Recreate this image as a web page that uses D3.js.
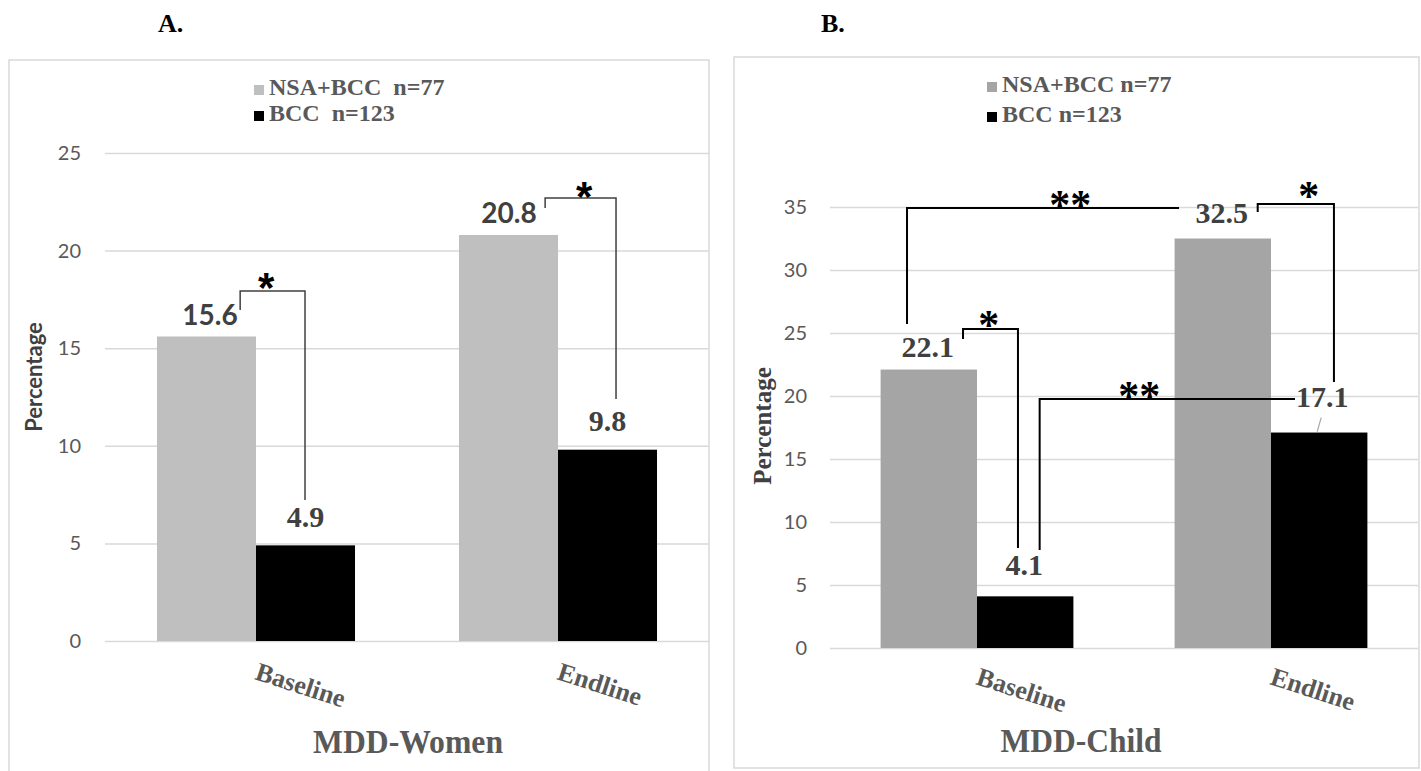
<!DOCTYPE html>
<html><head><meta charset="utf-8">
<script src="https://cdn.jsdelivr.net/npm/d3@7"></script>
<style>body{margin:0;background:#fff}svg{display:block}</style>
</head><body>
<svg id="c" width="1421" height="771"></svg>
<script>
// ---------- DATA ----------
const categories = ["Baseline", "Endline"];
const seriesKeys = ["NSA+BCC", "BCC"];
const legendA = ["NSA+BCC\u00a0\u00a0n=77", "BCC\u00a0\u00a0n=123"];
const legendB = ["NSA+BCC n=77", "BCC n=123"];
const womenNSA = [15.6, 20.8];
const womenBCC = [4.9, 9.8];
const childNSA = [22.1, 32.5];
const childBCC = [4.1, 17.1];
const womenTicks = [0, 5, 10, 15, 20, 25];
const childTicks = [0, 5, 10, 15, 20, 25, 30, 35];
// significance brackets: left anchor (category, series, fraction across bar), right anchor,
// top level, bottom levels (data units), label
const womenSig = [
  {l:[0,0,0.84], r:[0,1,0.495], top:17.93, lBot:16.96, rBot:7.22, label:"*", at:0.4, lift:18.49},
  {l:[1,0,0.87], r:[1,1,0.586], top:22.69, lBot:22.18, rBot:12.40, label:"*", at:0.55, lift:23.16}
];
const childSig = [
  {l:[0,0,0.274], r:[1,0,0.046], top:34.92, lBot:25.71, rBot:null, label:"**", at:0.6, lift:35.63},
  {l:[1,0,0.862], r:[1,1,0.653], top:35.24, lBot:34.60, rBot:21.11, label:"*", at:0.67, lift:36.35},
  {l:[0,0,0.855], r:[0,1,0.425], top:25.32, lBot:24.52, rBot:7.94, label:"*", at:0.47, lift:26.15},
  {l:[0,1,0.65], r:[1,1,0.249], top:19.76, lBot:7.78, rBot:null, label:"**", at:0.39, lift:20.48}
];

// ---------- DRAW ----------
const svg = d3.select("#c");
const SERIF = "'Liberation Serif','Times New Roman',serif";
const SANS = "Lato,'Open Sans',sans-serif";

function panel(cfg) {
  const g = svg.append("g");
  g.append("rect")
    .attr("x", cfg.box[0]).attr("y", cfg.box[1])
    .attr("width", cfg.box[2] - cfg.box[0]).attr("height", cfg.box[3] - cfg.box[1])
    .attr("fill", "#fff").attr("stroke", "#d9d9d9").attr("stroke-width", 1.5);

  g.append("text").attr("x", cfg.letter[0]).attr("y", cfg.letter[1])
    .attr("font-family", SERIF).attr("font-weight", "bold").attr("font-size", 26)
    .attr("fill", "#000").text(cfg.letterText);

  const y = d3.scaleLinear().domain([0, d3.max(cfg.ticks)]).range([cfg.y0, cfg.yTop]);
  const x0 = d3.scaleBand().domain(categories).range([cfg.xL, cfg.xR]);
  const x1 = d3.scaleBand().domain(seriesKeys).range([0, x0.bandwidth()])
    .paddingInner(0).paddingOuter(0.525);

  const ax = d3.axisLeft(y).tickValues(cfg.ticks)
    .tickSize(-(cfg.xR - cfg.xL)).tickPadding(cfg.tickPad);
  const axG = g.append("g").attr("transform", `translate(${cfg.xL},0)`).call(ax);
  axG.select(".domain").remove();
  axG.selectAll(".tick line").attr("stroke", "#d9d9d9").attr("stroke-width", 1.5);
  axG.selectAll(".tick text").attr("font-family", SANS).attr("font-size", 20)
    .attr("fill", "#595959");

  const vals = [cfg.nsa, cfg.bcc];
  const colors = [cfg.gray, "#000000"];
  seriesKeys.forEach((s, si) => {
    g.selectAll(null).data(categories).enter().append("rect")
      .attr("x", c => x0(c) + x1(s))
      .attr("y", (c, i) => y(vals[si][i]))
      .attr("width", x1.bandwidth())
      .attr("height", (c, i) => y(0) - y(vals[si][i]))
      .attr("fill", colors[si]);
  });

  // value labels
  seriesKeys.forEach((s, si) => {
    g.selectAll(null).data(categories).enter().append("text")
      .attr("x", (c, i) => x0(c) + x1(s) + x1.bandwidth() / 2 + cfg.labDx[si][i])
      .attr("y", (c, i) => y(vals[si][i]) - cfg.labGap[si][i])
      .attr("text-anchor", "middle")
      .attr("font-family", cfg.labFont[si] === "sans" ? SANS : SERIF)
      .attr("font-weight", "bold")
      .attr("font-size", cfg.labFont[si] === "sans" ? 28 : 30)
      .attr("fill", "#404040")
      .text((c, i) => vals[si][i].toFixed(1));
  });

  // leader lines
  (cfg.leaders || []).forEach(ld => {
    const cx = x0(categories[ld.c]) + x1(seriesKeys[ld.s]) + x1.bandwidth() / 2;
    const top = y(vals[ld.s][ld.c]);
    g.append("line").attr("x1", cx + 2).attr("y1", top - 15).attr("x2", cx - 2).attr("y2", top - 1)
      .attr("stroke", "#a6a6a6").attr("stroke-width", 1.2);
  });

  // category labels (rotated)
  categories.forEach(c => {
    const px = x0(c) + x0.bandwidth() / 2 - 2;
    const py = y(0) + cfg.catDy;
    g.append("text").attr("transform", `translate(${px},${py}) rotate(18)`)
      .attr("font-family", SERIF).attr("font-weight", "bold").attr("font-size", 26)
      .attr("fill", "#595959").text(c);
  });

  // axis title (x)
  g.append("text").attr("x", cfg.title[0]).attr("y", cfg.title[1])
    .attr("text-anchor", "middle").attr("font-family", SERIF).attr("font-weight", "bold")
    .attr("font-size", 34).attr("fill", "#595959")
    .attr("textLength", cfg.titleLen).attr("lengthAdjust", "spacingAndGlyphs")
    .text(cfg.titleText);

  // y title
  g.append("text").attr("transform", `translate(${cfg.yTitle[0]},${cfg.yTitle[1]}) rotate(-90)`)
    .attr("text-anchor", "middle").attr("dominant-baseline", "central")
    .attr("font-family", cfg.yTitleFont === "sans" ? SANS : SERIF)
    .attr("font-weight", "bold").attr("font-size", cfg.yTitleFont === "sans" ? 22 : 25)
    .attr("fill", "#404040").text("Percentage");

  // legend
  cfg.legend.forEach((t, i) => {
    const ly = cfg.legPos[1] + i * cfg.legStep;
    g.append("rect").attr("x", cfg.legPos[0]).attr("y", ly - 10).attr("width", 10).attr("height", 10)
      .attr("fill", colors[i]);
    g.append("text").attr("x", cfg.legPos[0] + 15).attr("y", ly)
      .attr("font-family", SERIF).attr("font-weight", "bold").attr("font-size", 24)
      .attr("fill", "#595959").text(t);
  });

  // significance brackets
  const ax_ = a => x0(categories[a[0]]) + x1(seriesKeys[a[1]]) + a[2] * x1.bandwidth();
  cfg.sig.forEach(b => {
    const xl = ax_(b.l), xr = ax_(b.r);
    const pts = [[xl, y(b.lBot)], [xl, y(b.top)], [xr, y(b.top)]];
    if (b.rBot !== null) pts.push([xr, y(b.rBot)]);
    g.append("path").attr("d", d3.line()(pts)).attr("fill", "none")
      .attr("stroke", cfg.brColor).attr("stroke-width", cfg.brWidth);
    g.append("text").attr("x", xl + b.at * (xr - xl)).attr("y", y(b.lift) + cfg.starDy)
      .attr("text-anchor", "middle").attr("font-family", cfg.starFont)
      .attr("font-weight", "bold").attr("font-size", 42).attr("fill", "#000")
      .text(b.label);
  });
}

panel({
  box: [9, 60, 709, 820], letter: [158, 32], letterText: "A.",
  ticks: womenTicks, y0: 641, yTop: 153, xL: 105, xR: 709, tickPad: 24,
  nsa: womenNSA, bcc: womenBCC, gray: "#bfbfbf",
  labDx: [[3.5, 0.5], [0, 0]], labGap: [[11.5, 12], [18.5, 18.5]], labFont: ["sans", "serif"],
  catDy: 38, title: [408, 753], titleLen: 190, titleText: "MDD-Women",
  yTitle: [33, 377], yTitleFont: "sans",
  legend: legendA, legPos: [254, 95], legStep: 26,
  sig: womenSig, brColor: "#404040", brWidth: 1.5, starFont: "'Liberation Sans',Arial,sans-serif", starDy: 22
});

panel({
  box: [734, 57, 1419, 768], letter: [821, 32], letterText: "B.",
  ticks: childTicks, y0: 648, yTop: 207, xL: 830, xR: 1418, tickPad: 23,
  nsa: childNSA, bcc: childBCC, gray: "#a5a5a5",
  labDx: [[-1, -1], [-1, 3]], labGap: [[12.5, 15.5], [21, 25.5]], labFont: ["serif", "serif"],
  leaders: [{c: 1, s: 1}],
  catDy: 36, title: [1081, 752], titleLen: 161, titleText: "MDD-Child",
  yTitle: [762, 426], yTitleFont: "serif",
  legend: legendB, legPos: [987, 92], legStep: 30,
  sig: childSig, brColor: "#000", brWidth: 2, starFont: SERIF, starDy: 20
});
</script>
</body></html>
